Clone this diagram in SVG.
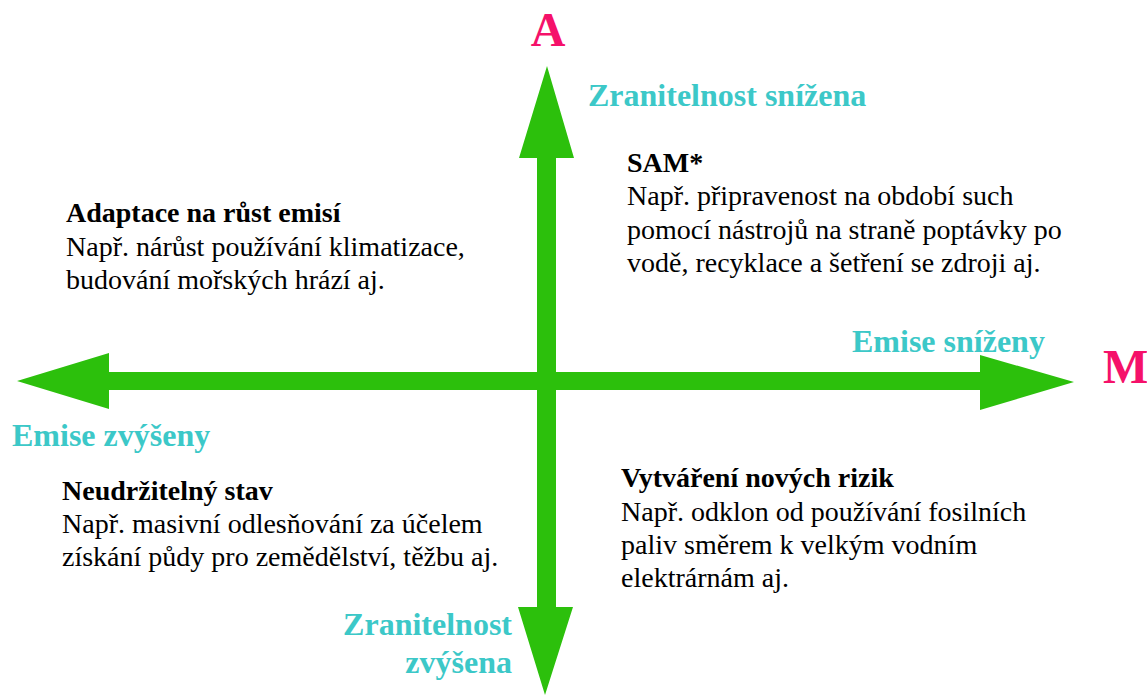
<svg xmlns="http://www.w3.org/2000/svg" width="1147" height="695" viewBox="0 0 1147 695">
<style>
.ax{fill:#2cc00c;stroke:none}
text{font-family:'Liberation Serif','Times New Roman',serif}
.lbl{font-weight:bold;font-size:32px;fill:#3cc8c8}
.big{font-weight:bold;font-size:48px;fill:#f5116a}
.t{font-size:28px;fill:#000}
.h{font-weight:bold}
</style>
<rect width="1147" height="695" fill="#fff"/>
<g id="connectors">
<polygon class="ax" points="537,158 519,158 547,66 574,158 556,158 556,372 980,372 980,355 1074,382 980,410 980,390 556,390 556,607 573,607 545,695 518,607 537,607 537,390 109,390 109,409 17,381 109,353 109,372 537,372"/>
</g>
<g id="axis-labels">
<text class="big" x="548" y="46" text-anchor="middle">A</text>
<text class="big" x="1103" y="383">M</text>
<text class="lbl" x="588" y="106">Zranitelnost snížena</text>
<text class="lbl" x="852" y="352">Emise sníženy</text>
<text class="lbl" x="12" y="446">Emise zvýšeny</text>
<text class="lbl" x="512" y="635" text-anchor="end">Zranitelnost</text>
<text class="lbl" x="512" y="673" text-anchor="end">zvýšena</text>
</g>
<g id="q-top-left">
<text class="t h" x="66" y="222">Adaptace na růst emisí</text>
<text class="t" x="66" y="256">Např. nárůst používání klimatizace,</text>
<text class="t" x="66" y="289">budování mořských hrází aj.</text>
</g>
<g id="q-top-right">
<text class="t h" x="627" y="172">SAM*</text>
<text class="t" x="627" y="205">Např. připravenost na období such</text>
<text class="t" x="627" y="239">pomocí nástrojů na straně poptávky po</text>
<text class="t" x="627" y="272">vodě, recyklace a šetření se zdroji aj.</text>
</g>
<g id="q-bottom-left">
<text class="t h" x="62" y="500">Neudržitelný stav</text>
<text class="t" x="62" y="533">Např. masivní odlesňování za účelem</text>
<text class="t" x="62" y="566">získání půdy pro zemědělství, těžbu aj.</text>
</g>
<g id="q-bottom-right">
<text class="t h" x="621" y="487">Vytváření nových rizik</text>
<text class="t" x="621" y="521">Např. odklon od používání fosilních</text>
<text class="t" x="621" y="554">paliv směrem k velkým vodním</text>
<text class="t" x="621" y="587">elektrárnám aj.</text>
</g>
</svg>
